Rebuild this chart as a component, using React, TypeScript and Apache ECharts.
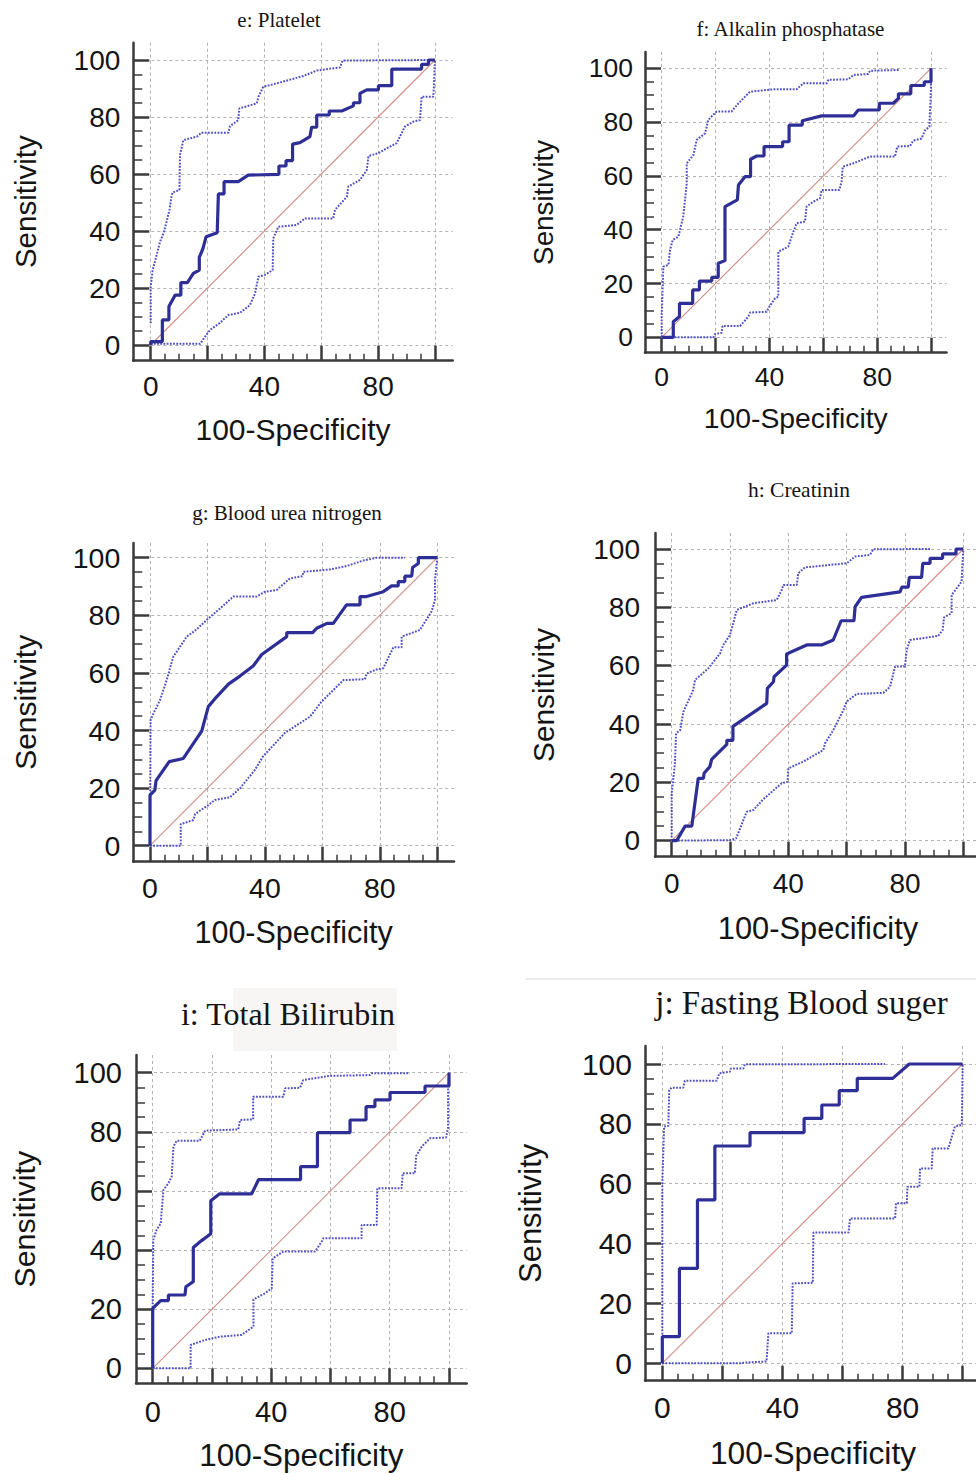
import React, { useEffect, useRef } from "react";
import * as echarts from "echarts";

// ---------- tick / label values ----------
const majorTicks = [0, 20, 40, 60, 80, 100];
const minorTicks = [5, 10, 15, 25, 30, 35, 45, 50, 55, 65, 70, 75, 85, 90, 95];
const xTickLabels = [0, 40, 80];
const yTickLabels = [0, 20, 40, 60, 80, 100];
const diagonal = [[0, 0], [100, 100]];

// ---------- e: Platelet ----------
const plateletRoc = [[0,0],[0,1.2],[4.1,1.2],[4.1,8.8],[6.4,8.8],[6.4,13.5],[8.6,17.5],[10.6,17.5],[10.6,21.9],[12.9,21.9],[15.0,25.1],[17.1,26.3],[17.1,30.8],[18.3,33.6],[19.5,38.0],[23.4,39.4],[23.8,53.0],[25.8,53.0],[25.8,57.3],[30.8,57.3],[34.3,59.6],[45.1,59.9],[45.1,62.8],[47.6,62.8],[47.6,64.7],[49.9,64.7],[49.9,70.5],[52.5,71.0],[56.0,73.1],[56.6,76.4],[58.4,76.4],[58.4,80.7],[62.8,80.7],[62.8,82.1],[67.2,82.1],[71.3,83.9],[71.3,85.0],[73.6,85.0],[73.6,88.3],[76.0,89.5],[80.1,89.5],[80.1,91.0],[84.8,91.0],[84.8,96.8],[95.3,96.8],[95.3,98.5],[97.7,98.5],[97.7,100],[100,100]];
const plateletUpper = [[0,7.6],[0,20.5],[0.7,26.3],[2.1,31.6],[3.3,36.3],[4.5,39.2],[5.6,43.3],[6.6,47.4],[7.3,52.0],[7.7,53.5],[10.1,54.4],[10.3,66.7],[11.5,71.9],[16.2,73.1],[17.9,74.5],[27.3,74.5],[27.9,76.8],[30.8,78.9],[31.2,83.0],[37.3,84.8],[37.9,87.1],[39.6,90.6],[44.3,91.8],[53.7,94.4],[58.4,96.3],[66.6,97.4],[67.5,99.8],[100,100]];
const plateletLower = [[0,0.4],[17.4,0.4],[19.1,2.9],[20.9,5.3],[24.4,7.8],[27.3,10.5],[31.4,11.3],[34.9,14.0],[36.7,18.1],[37.9,24.0],[40.2,24.6],[42.9,26.3],[43.1,37.4],[44.9,41.5],[51.3,42.1],[54.3,44.4],[64.2,44.4],[64.8,47.4],[69.0,52.0],[69.5,55.6],[73.6,57.9],[76.0,61.4],[76.6,66.3],[80.1,67.3],[83.0,69.0],[86.5,70.8],[89.4,76.6],[92.4,78.4],[94.7,78.9],[95.3,87.1],[99.4,87.1],[99.6,90.6],[100,100]];

// ---------- f: Alkalin phosphatase ----------
const alpRoc = [[0,0],[4.3,0],[4.3,5.8],[6.6,7.7],[6.6,12.6],[11.5,12.6],[11.5,17.6],[14.0,17.6],[14.0,20.9],[18.6,20.9],[18.6,22.3],[21.0,22.3],[21.0,27.5],[23.5,28.5],[23.5,48.6],[28.1,51.1],[28.5,56.6],[30.9,59.7],[33.0,59.7],[33.0,66.2],[35.3,67.4],[38.0,67.4],[38.0,70.9],[44.9,70.9],[44.9,72.7],[47.3,72.7],[47.3,78.9],[52.2,78.9],[52.2,80.5],[59.4,82.3],[71.2,82.3],[73.0,84.5],[80.8,84.5],[80.8,87.0],[86.0,87.0],[87.9,88.8],[87.9,90.5],[92.5,90.5],[92.5,93.6],[97.5,93.6],[97.5,95.0],[100,95.0],[100,100]];
const alpUpper = [[0,0],[0,7.7],[0.4,20.1],[0.6,26.3],[2.5,26.9],[3.1,32.5],[4.1,36.2],[6.2,37.4],[6.8,39.9],[8.0,44.9],[9.3,57.2],[9.3,64.7],[11.8,67.8],[13.0,73.4],[16.1,75.8],[17.3,80.8],[20.3,83.9],[25.9,83.9],[28.5,87.0],[32.8,91.3],[41.5,92.2],[50.1,92.2],[52.6,94.4],[61.3,94.4],[61.9,95.7],[69.3,95.9],[71.2,97.5],[76.7,97.9],[77.4,99.1],[88.5,99.4]];
const alpLower = [[0,0],[19.2,0],[19.8,1.2],[22.3,1.7],[22.6,4.2],[29.1,4.2],[32.2,7.7],[32.8,9.2],[39.0,9.5],[39.6,10.8],[42.1,14.5],[43.3,15.1],[43.3,31.8],[47.0,33.7],[48.9,39.3],[50.1,42.4],[53.2,43.0],[53.8,48.6],[56.3,50.4],[58.8,51.7],[59.4,54.8],[66.0,54.8],[66.8,57.9],[67.2,63.4],[71.2,64.7],[77.4,67.2],[86.6,67.2],[87.5,70.9],[92.2,71.1],[93.4,73.1],[96.5,73.9],[97.8,77.0],[99.4,78.3],[99.6,83.3],[100,92.0],[100,100]];

// ---------- g: Blood urea nitrogen ----------
const bunRoc = [[0,0],[0,17.6],[1.7,19.3],[2.1,22.6],[6.7,29.2],[11.6,30.3],[18.0,39.8],[20.3,48.3],[23.2,51.7],[27.3,56.1],[31.3,58.9],[35.9,62.4],[38.9,66.4],[47.6,72.6],[47.6,74.0],[56.6,74.0],[58.0,75.5],[61.6,77.2],[63.8,77.2],[68.4,83.6],[73.1,83.6],[73.1,86.5],[75.4,86.5],[81.2,88.2],[84.1,90.2],[86.4,90.2],[86.4,91.7],[88.7,91.7],[88.7,93.6],[91.1,93.6],[91.4,96.6],[93.4,98.0],[93.4,100],[100,100]];
const bunUpper = [[0,0],[0.2,43.6],[1.2,45.9],[3.5,50.6],[5.8,57.5],[8.1,65.6],[12.8,72.6],[16.2,75.1],[20.3,78.9],[24.4,82.4],[29.0,86.5],[37.1,86.5],[40.0,88.2],[44.1,88.8],[48.7,92.8],[53.1,93.6],[53.4,95.1],[62.6,95.9],[68.4,97.1],[74.2,99.0],[78.9,100],[88.7,100]];
const bunLower = [[0,0],[10.7,0],[10.7,7.5],[15.1,8.9],[15.7,11.0],[20.3,14.1],[22.6,15.9],[27.8,16.8],[31.3,19.9],[36.5,26.3],[39.4,31.1],[47.0,39.2],[55.7,44.8],[59.7,50.0],[67.3,57.5],[74.8,57.8],[75.4,59.8],[78.9,61.2],[81.2,61.6],[84.7,68.9],[87.6,68.9],[87.6,72.6],[93.9,74.9],[98.0,81.3],[99.2,85.3],[99.2,92.2],[100,100]];

// ---------- h: Creatinin ----------
const creatRoc = [[0,0],[1.7,0],[4.6,5.0],[6.9,5.0],[9.1,21.4],[10.9,21.4],[11.1,23.1],[13.1,25.4],[13.7,27.9],[18.9,33.0],[18.9,34.4],[21.0,34.4],[21.0,39.2],[32.6,47.1],[32.8,52.2],[34.9,54.5],[35.1,56.2],[39.4,60.2],[39.4,64.0],[46.3,67.1],[51.4,67.1],[55.4,68.8],[58.1,75.4],[62.5,75.4],[62.9,80.2],[65.1,83.4],[78.3,85.3],[78.9,86.9],[81.1,86.9],[81.5,90.3],[85.7,90.3],[86.1,95.1],[88.6,95.1],[88.6,96.8],[92.9,96.8],[92.9,98.3],[97.5,98.3],[97.5,100],[100,100]];
const creatUpper = [[0,0],[0,16.2],[1.1,26.5],[1.5,36.8],[2.9,37.9],[4.0,44.2],[7.4,51.7],[8.0,55.1],[12.6,59.1],[15.4,62.7],[16.6,64.2],[17.7,67.1],[20.0,70.5],[21.1,74.5],[22.3,79.1],[28.0,81.4],[36.0,82.5],[37.7,85.9],[38.3,87.7],[42.9,87.7],[43.4,91.7],[45.7,93.7],[60.0,95.1],[62.9,97.4],[68.0,98.0],[69.1,99.9],[88.6,100]];
const creatLower = [[0,0],[20.0,0.2],[22.1,0.8],[25.7,9.9],[28.0,10.5],[31.4,14.2],[33.7,16.2],[37.7,19.7],[39.7,20.2],[40.0,24.8],[45.1,27.1],[52.0,31.1],[52.6,33.4],[55.4,37.9],[58.9,44.8],[60.0,47.7],[63.4,50.3],[72.6,50.7],[74.9,52.8],[76.6,59.7],[80.0,59.7],[80.6,65.4],[81.7,68.8],[91.4,70.2],[92.9,72.2],[93.4,76.6],[96.0,78.0],[96.0,84.2],[97.7,86.5],[99.4,88.8],[100,100]];

// ---------- i: Total Bilirubin ----------
const biliRoc = [[0,0],[0,20.3],[2.7,22.9],[5.3,22.9],[5.3,24.8],[10.9,24.8],[11.2,27.6],[13.7,29.3],[13.7,40.9],[16.5,43.2],[19.6,45.5],[19.6,56.7],[22.5,59.0],[33.4,59.0],[35.7,63.8],[49.9,63.8],[49.9,68.2],[55.6,68.2],[55.6,79.7],[66.6,79.7],[66.6,84.0],[72.0,84.0],[72.0,88.5],[75.0,88.5],[75.0,90.8],[80.1,90.8],[80.1,93.3],[91.9,93.3],[91.9,95.5],[100,95.5],[100,100]];
const biliUpper = [[0,0],[0,22.0],[0.2,43.4],[1.3,46.8],[2.7,49.0],[3.6,60.3],[5.3,62.6],[6.4,64.8],[7.0,75.0],[8.1,77.0],[15.9,77.0],[17.7,80.4],[28.9,80.8],[29.5,84.0],[33.9,84.2],[33.9,91.9],[44.1,91.9],[44.7,94.7],[49.7,94.9],[50.8,97.5],[59.3,98.9],[73.3,99.2],[73.9,99.8],[86.8,99.8]];
const biliLower = [[0,0],[12.8,0],[12.8,7.9],[17.7,9.6],[22.7,10.7],[30.0,11.3],[34.0,14.1],[34.0,23.3],[37.9,25.4],[40.2,27.1],[40.5,37.2],[44.1,39.5],[54.8,39.5],[57.4,43.4],[57.6,44.0],[70.5,44.0],[70.5,48.5],[75.6,48.5],[75.8,60.9],[84.0,60.9],[84.4,66.0],[88.5,66.0],[88.9,71.8],[90.8,75.0],[93.6,77.8],[99.0,78.1],[99.7,81.5],[99.7,94.1],[100,100]];

// ---------- j: Fasting Blood suger ----------
const fbsRoc = [[0,0],[0,8.9],[5.7,8.9],[5.7,31.7],[11.7,31.7],[11.7,54.6],[17.5,54.6],[17.5,72.6],[29.2,72.6],[29.2,77.1],[47.2,77.1],[47.2,81.8],[53.1,81.8],[53.1,86.3],[58.9,86.3],[58.9,91.1],[64.9,91.1],[64.9,95.2],[76.7,95.2],[82.2,100],[100,100]];
const fbsUpper = [[0,0],[0,60.1],[0.6,79.1],[2.0,79.3],[2.3,91.3],[3.1,92.1],[7.0,92.1],[7.5,94.4],[18.1,94.4],[19.0,96.9],[22.5,97.4],[22.8,98.5],[27.0,98.5],[27.5,99.9],[74.1,100]];
const fbsLower = [[0,0],[25.9,0],[27.0,0.2],[34.7,0.6],[35.3,10.0],[43.1,10.0],[43.4,26.7],[50.1,26.9],[50.3,43.7],[62.0,43.7],[62.5,48.4],[77.5,48.4],[77.8,53.5],[81.4,53.5],[81.6,59.0],[85.6,59.0],[85.8,65.1],[89.7,65.1],[90.0,71.8],[95.2,71.8],[97.4,79.1],[99.7,79.6],[100,100]];

// ---------- layout (pixel positions of each panel) ----------
const panels = [
  { title: "e: Platelet", roc: plateletRoc, upper: plateletUpper, lower: plateletLower,
    x0: 150.7, x100: 435, y0: 345, y100: 60, axisLeft: 133.3, axisBottom: 360.7, right: 452.7, top: 42.7,
    titleX: 279, titleY: 20, titleSize: 21, labelSize: 28, xNameSize: 30, yNameSize: 29.5,
    xNameGap: 54, yNameGap: 92.5, xLabelMargin: 12, yLabelMargin: 13 },
  { title: "f: Alkalin phosphatase", roc: alpRoc, upper: alpUpper, lower: alpLower,
    x0: 661.7, x100: 931, y0: 337.3, y100: 68.3, axisLeft: 645, axisBottom: 352.7, right: 946.5, top: 52,
    titleX: 790.5, titleY: 28.5, titleSize: 21, labelSize: 26.5, xNameSize: 28.3, yNameSize: 27.8,
    xNameGap: 51, yNameGap: 88, xLabelMargin: 11, yLabelMargin: 12 },
  { title: "g: Blood urea nitrogen", roc: bunRoc, upper: bunUpper, lower: bunLower,
    x0: 150, x100: 437.3, y0: 845.7, y100: 557.7, axisLeft: 133.3, axisBottom: 861.7, right: 454, top: 543,
    titleX: 287, titleY: 513, titleSize: 21, labelSize: 28.5, xNameSize: 30.5, yNameSize: 30,
    xNameGap: 55, yNameGap: 93, xLabelMargin: 12, yLabelMargin: 13 },
  { title: "h: Creatinin", roc: creatRoc, upper: creatUpper, lower: creatLower,
    x0: 671.7, x100: 963.3, y0: 840.7, y100: 549, axisLeft: 655, axisBottom: 856.7, right: 981, top: 533,
    titleX: 799, titleY: 490, titleSize: 21.5, labelSize: 28, xNameSize: 30.8, yNameSize: 29.8,
    xNameGap: 56, yNameGap: 97, xLabelMargin: 13, yLabelMargin: 15 },
  { title: "i: Total Bilirubin", roc: biliRoc, upper: biliUpper, lower: biliLower,
    x0: 152.7, x100: 449, y0: 1368.3, y100: 1072.7, axisLeft: 136, axisBottom: 1383.3, right: 466.7, top: 1055,
    titleX: 288, titleY: 1014, titleSize: 32, labelSize: 29, xNameSize: 31.4, yNameSize: 30.4,
    xNameGap: 57, yNameGap: 97, xLabelMargin: 14, yLabelMargin: 14 },
  { title: "j: Fasting Blood suger", roc: fbsRoc, upper: fbsUpper, lower: fbsLower,
    x0: 662.3, x100: 962.7, y0: 1363.3, y100: 1064, axisLeft: 645, axisBottom: 1380.7, right: 981, top: 1046,
    titleX: 801.5, titleY: 1002.5, titleSize: 33, labelSize: 30, xNameSize: 31.7, yNameSize: 30.9,
    xNameGap: 56.5, yNameGap: 99.5, xLabelMargin: 12, yLabelMargin: 13 },
];

const SANS = '"Liberation Sans", Arial, sans-serif';
const SERIF = '"Liberation Serif", "Times New Roman", serif';
const AXIS = "#3a3a3a";
const TEXT = "#141414";
const GRIDLINE = "#b2b2b2";
const ROC_COLOR = "#2e2f96";
const CI_COLOR = "#4f4fc4";
const DIAG_COLOR = "#d4928b";

function buildOption() {
  const grid: any[] = [];
  const xAxis: any[] = [];
  const yAxis: any[] = [];
  const series: any[] = [];
  const graphic: any[] = [];

  graphic.push({ type: "line", shape: { x1: 525, y1: 979, x2: 976, y2: 979 }, style: { stroke: "#ececec", lineWidth: 2 }, silent: true });
  graphic.push({ type: "rect", shape: { x: 233, y: 988, width: 164, height: 63 }, style: { fill: "#f7f6f4" }, silent: true, z: -1 });

  panels.forEach((p, i) => {
    const sx = (p.x100 - p.x0) / 100;
    const sy = (p.y0 - p.y100) / 100;
    const xmin = (p.axisLeft - p.x0) / sx;
    const xmax = (p.right - p.x0) / sx;
    const ymin = (p.y0 - p.axisBottom) / sy;
    const ymax = (p.y0 - p.top) / sy;

    grid.push({
      left: p.axisLeft, top: p.top, width: p.right - p.axisLeft, height: p.axisBottom - p.top,
      containLabel: false, outerBoundsMode: "none",
    });

    const xa = xAxis.length;
    xAxis.push({
      type: "value", gridIndex: i, position: "bottom", min: xmin, max: xmax,
      axisLine: { show: true, onZero: false, lineStyle: { color: AXIS, width: 2.5 } },
      axisTick: { show: true, inside: true, length: 15, customValues: majorTicks, lineStyle: { color: AXIS, width: 2.5 } },
      axisLabel: { show: true, customValues: xTickLabels, margin: p.xLabelMargin, fontSize: p.labelSize, color: TEXT, fontFamily: SANS },
      splitLine: { show: true, lineStyle: { color: GRIDLINE, width: 1, type: [3, 3] } },
      name: "100-Specificity", nameLocation: "middle", nameGap: p.xNameGap,
      nameTextStyle: { fontSize: p.xNameSize, color: TEXT, fontFamily: SANS },
    });
    xAxis.push({
      type: "value", gridIndex: i, position: "bottom", min: xmin, max: xmax,
      axisLine: { show: false, onZero: false },
      axisTick: { show: true, inside: true, length: 7, customValues: minorTicks, lineStyle: { color: AXIS, width: 1.5 } },
      axisLabel: { show: false }, splitLine: { show: false },
    });

    const ya = yAxis.length;
    yAxis.push({
      type: "value", gridIndex: i, position: "left", min: ymin, max: ymax,
      axisLine: { show: true, onZero: false, lineStyle: { color: AXIS, width: 2.5 } },
      axisTick: { show: true, inside: true, length: 16, customValues: majorTicks, lineStyle: { color: AXIS, width: 2.5 } },
      axisLabel: { show: true, customValues: yTickLabels, margin: p.yLabelMargin, fontSize: p.labelSize, color: TEXT, fontFamily: SANS },
      splitLine: { show: true, lineStyle: { color: GRIDLINE, width: 1, type: [3, 3] } },
      name: "Sensitivity", nameLocation: "middle", nameGap: p.yNameGap, nameRotate: 90,
      nameTextStyle: { fontSize: p.yNameSize, color: TEXT, fontFamily: SANS },
    });
    yAxis.push({
      type: "value", gridIndex: i, position: "left", min: ymin, max: ymax,
      axisLine: { show: false, onZero: false },
      axisTick: { show: true, inside: true, length: 9, customValues: minorTicks, lineStyle: { color: AXIS, width: 1.5 } },
      axisLabel: { show: false }, splitLine: { show: false },
    });

    series.push({
      type: "line", xAxisIndex: xa, yAxisIndex: ya, data: diagonal, symbol: "none", silent: true, z: 2,
      lineStyle: { color: DIAG_COLOR, width: 1.2 },
    });
    series.push({
      type: "line", xAxisIndex: xa, yAxisIndex: ya, data: p.upper, symbol: "none", silent: true, z: 3,
      lineStyle: { color: CI_COLOR, width: 2, type: [1.8, 1.4] },
    });
    series.push({
      type: "line", xAxisIndex: xa, yAxisIndex: ya, data: p.lower, symbol: "none", silent: true, z: 3,
      lineStyle: { color: CI_COLOR, width: 2, type: [1.8, 1.4] },
    });
    series.push({
      type: "line", xAxisIndex: xa, yAxisIndex: ya, data: p.roc, symbol: "none", silent: true, z: 4,
      lineStyle: { color: ROC_COLOR, width: 3.2 },
    });

    graphic.push({
      type: "text", x: p.titleX, y: p.titleY, silent: true,
      style: { text: p.title, fill: TEXT, fontSize: p.titleSize, fontFamily: SERIF, align: "center", verticalAlign: "middle" },
    });
  });

  return { animation: false, backgroundColor: "#ffffff", grid, xAxis, yAxis, series, graphic };
}

export default function App() {
  const ref = useRef<HTMLDivElement>(null);
  useEffect(() => {
    const chart = echarts.init(ref.current as HTMLDivElement, null, { renderer: "svg" });
    chart.setOption(buildOption() as any);
    return () => chart.dispose();
  }, []);
  return (
    <div
      ref={ref}
      style={{ position: "absolute", left: 0, top: 0, width: 976, height: 1473, background: "#ffffff" }}
    />
  );
}
